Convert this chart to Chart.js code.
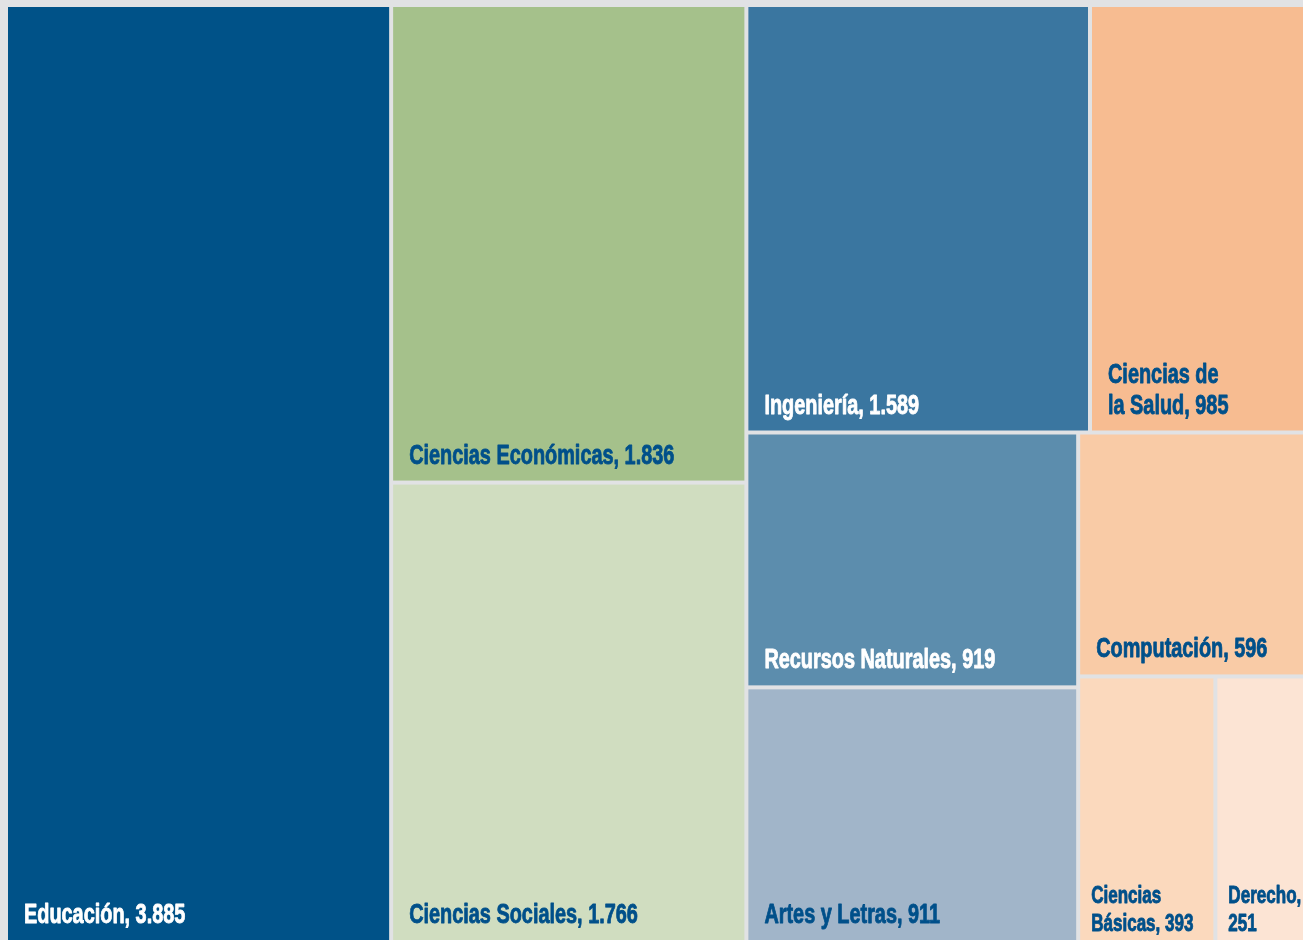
<!DOCTYPE html>
<html>
<head>
<meta charset="utf-8">
<script src="https://cdn.jsdelivr.net/npm/chart.js@4.4.1/dist/chart.umd.min.js"></script>
<style>
  html, body { margin: 0; padding: 0; background: #e1e2e4; }
  #wrap { width: 1303px; height: 940px; }
</style>
</head>
<body>
<div id="wrap"><canvas id="myChart"></canvas></div>
<script>
/* DATI */
const categories = ['Educación', 'Ciencias Económicas', 'Ciencias Sociales', 'Ingeniería',
  'Ciencias de\nla Salud', 'Recursos Naturales', 'Artes y Letras', 'Computación',
  'Ciencias Básicas', 'Derecho'];
const values = [3885, 1836, 1766, 1589, 985, 919, 911, 596, 393, 251];
const colors = ['#005288', '#a5c18b', '#d0ddc0', '#3a76a0', '#f7bc91',
  '#5c8dad', '#a1b5c9', '#f9cba6', '#fbd9bd', '#fce4d4'];

// come sono raggruppate le celle (h = affiancate, v = impilate)
const layoutTree = { dir: 'h', children: [
  0,
  { dir: 'v', children: [1, 2] },
  { dir: 'v', children: [
    { dir: 'h', children: [3, 4] },
    { dir: 'h', children: [
      { dir: 'v', children: [5, 6] },
      { dir: 'v', children: [7, { dir: 'h', children: [8, 9] }] }
    ] }
  ] }
] };

function fmt(v) {
  return String(v).replace(/\B(?=(\d{3})+(?!\d))/g, '.');
}

function nodeSum(node) {
  if (typeof node === 'number') return values[node];
  return node.children.reduce((s, c) => s + nodeSum(c), 0);
}

// divide il rettangolo (in unita' degli assi) secondo i valori
function layoutNode(node, x0, y0, x1, y1, out) {
  if (typeof node === 'number') {
    out.push({ i: node, x0: x0, y0: y0, x1: x1, y1: y1 });
    return;
  }
  const total = nodeSum(node);
  let pos = node.dir === 'h' ? x0 : y0;
  node.children.forEach(c => {
    const f = nodeSum(c) / total;
    if (node.dir === 'h') {
      const w = (x1 - x0) * f;
      layoutNode(c, pos, y0, pos + w, y1, out);
      pos += w;
    } else {
      const h = (y1 - y0) * f;
      layoutNode(c, x0, pos, x1, pos + h, out);
      pos += h;
    }
  });
}

function isDark(hex) {
  const r = parseInt(hex.substr(1, 2), 16), g = parseInt(hex.substr(3, 2), 16), b = parseInt(hex.substr(5, 2), 16);
  return 0.2126 * r + 0.7152 * g + 0.0722 * b < 150;
}

const SX = 0.71;   // compressione orizzontale del testo
const FONT_FAMILY = '"Liberation Sans", Arial, sans-serif';

function wrapLines(ctx, text, maxW) {
  const lines = [];
  text.split('\n').forEach(part => {
    let cur = '';
    part.split(' ').forEach(w => {
      const test = cur ? cur + ' ' + w : w;
      if (cur && ctx.measureText(test).width * SX > maxW) {
        lines.push(cur);
        cur = w;
      } else {
        cur = test;
      }
    });
    if (cur) lines.push(cur);
  });
  return lines;
}

const treemapPlugin = {
  id: 'treemap',
  afterDatasetsDraw(chart) {
    const ctx = chart.ctx;
    const xs = chart.scales.x, ys = chart.scales.y;
    const cells = [];
    layoutNode(layoutTree, 0, 0, 1, 1, cells);
    const g = 2;
    ctx.save();
    cells.forEach(c => {
      const left = xs.getPixelForValue(c.x0) + (c.x0 > 0 ? g : 0);
      const right = xs.getPixelForValue(c.x1) - (c.x1 < 1 ? g : 0);
      const top = ys.getPixelForValue(c.y0) + (c.y0 > 0 ? g : 0);
      const bottom = ys.getPixelForValue(c.y1) - (c.y1 < 1 ? g : 0);
      ctx.fillStyle = colors[c.i];
      ctx.fillRect(left, top, right - left, bottom - top);

      const w = right - left;
      const small = w < 150;
      const size = small ? 24 : 28;
      const padL = small ? 11 : 16;
      const padB = small ? 9 : 17;
      const lh = small ? 28 : 31;
      const txtCol = isDark(colors[c.i]) ? '#ffffff' : '#00508a';
      ctx.font = 'bold ' + size + 'px ' + FONT_FAMILY;
      ctx.fillStyle = txtCol;
      ctx.strokeStyle = txtCol;
      ctx.lineWidth = 0.9;
      ctx.lineJoin = 'round';
      ctx.textBaseline = 'alphabetic';
      ctx.textAlign = 'left';
      const lines = wrapLines(ctx, categories[c.i] + ', ' + fmt(values[c.i]), w - padL - 2);
      lines.forEach((ln, k) => {
        const yy = bottom - padB - (lines.length - 1 - k) * lh;
        ctx.save();
        ctx.translate(left + padL, yy);
        ctx.scale(SX, 1);
        ctx.fillText(ln, 0, 0);
        ctx.strokeText(ln, 0, 0);
        ctx.restore();
      });
    });
    ctx.restore();
  }
};

const config = {
  type: 'scatter',
  data: { datasets: [{ data: [] }] },
  options: {
    responsive: true,
    maintainAspectRatio: false,
    animation: false,
    layout: { padding: { left: 8, top: 7, right: 0, bottom: 0 } },
    scales: {
      x: { type: 'linear', min: 0, max: 1, display: false },
      y: { type: 'linear', min: 0, max: 1, reverse: true, display: false }
    },
    plugins: { legend: { display: false }, tooltip: { enabled: false } }
  },
  plugins: [treemapPlugin]
};

const myChart = new Chart(document.getElementById('myChart').getContext('2d'), config);
</script>
</body>
</html>
